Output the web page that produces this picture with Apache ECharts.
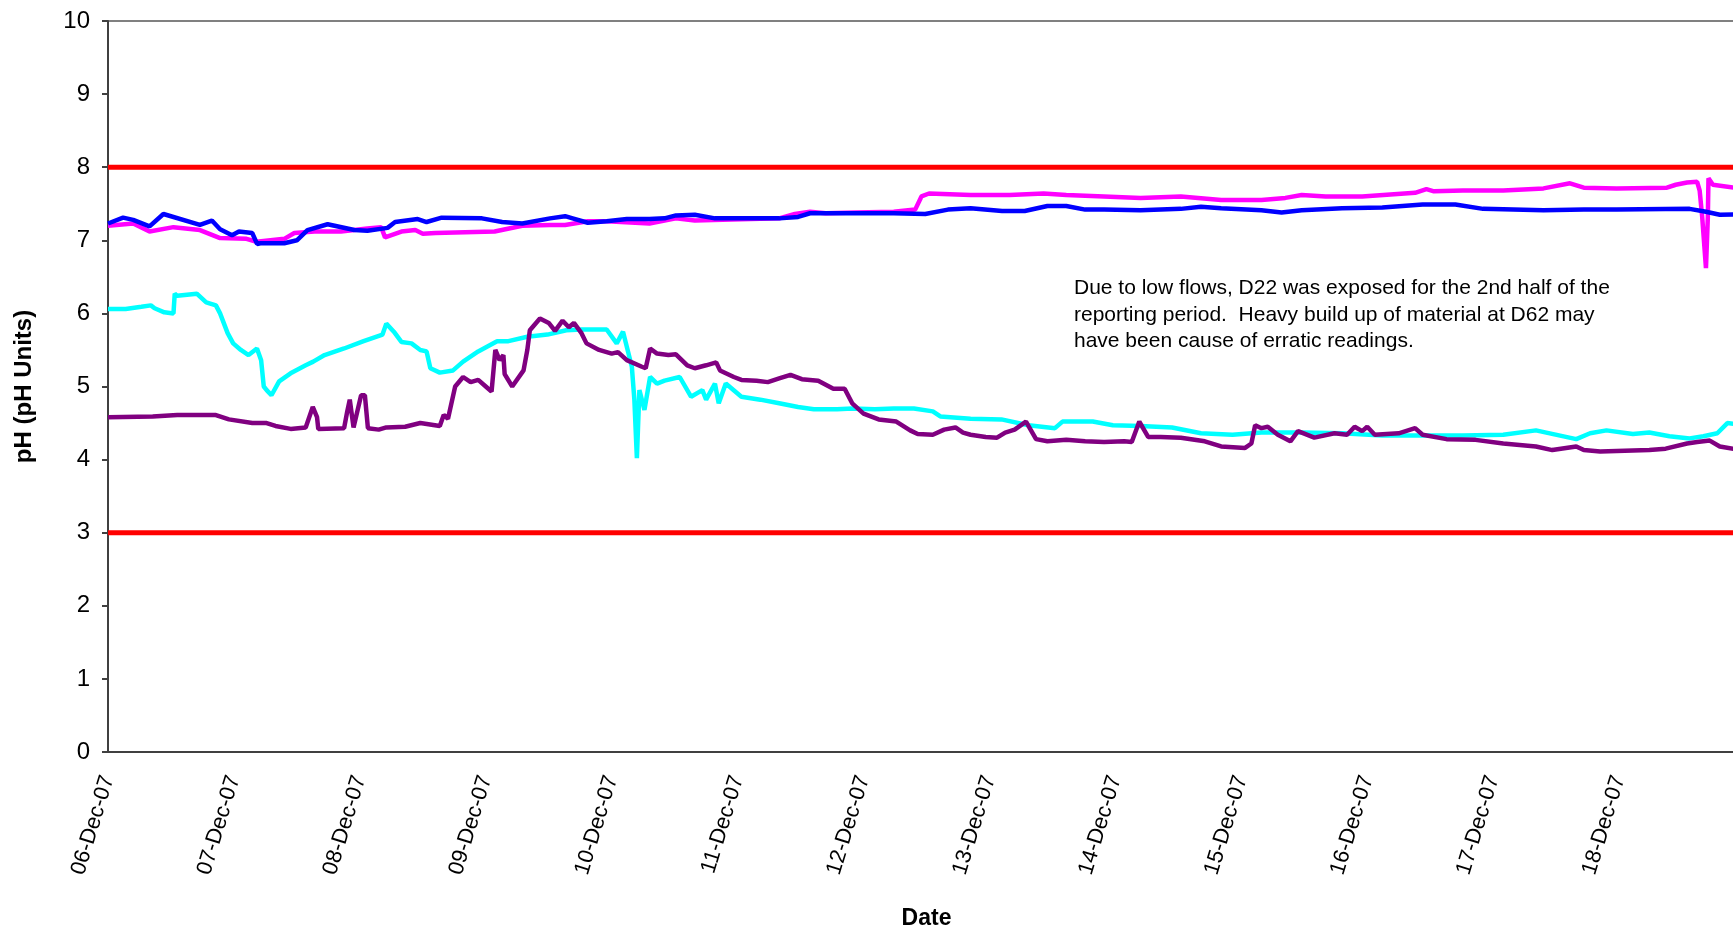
<!DOCTYPE html>
<html>
<head>
<meta charset="utf-8">
<title>pH chart</title>
<script src="https://cdn.jsdelivr.net/npm/echarts@6/dist/echarts.min.js"></script>
<style>
  html, body { margin: 0; padding: 0; background: #fff; overflow: hidden; }
  #chart { width: 1733px; height: 932px; }
</style>
</head>
<body>
<div id="chart"></div>
<script>
// x values are days since 06-Dec-07 00:00
const tickLabels = ["06-Dec-07", "07-Dec-07", "08-Dec-07", "09-Dec-07", "10-Dec-07", "11-Dec-07",
  "12-Dec-07", "13-Dec-07", "14-Dec-07", "15-Dec-07", "16-Dec-07", "17-Dec-07", "18-Dec-07"];

const upperLimit = 8;
const lowerLimit = 3;

const blueDays = [0, 0.12, 0.2, 0.33, 0.44, 0.73, 0.825, 0.89, 0.985, 1.04, 1.145, 1.184, 1.21, 1.4, 1.5, 1.584, 1.744, 1.956, 2.06, 2.22, 2.28, 2.46, 2.53, 2.65, 2.97, 3.13, 3.29, 3.51, 3.63, 3.69, 3.81, 3.96, 4.12, 4.3, 4.42, 4.51, 4.66, 4.82, 5.03, 5.33, 5.48, 5.575, 5.7, 5.94, 6.24, 6.49, 6.67, 6.85, 7.1, 7.28, 7.46, 7.61, 7.76, 7.91, 8.2, 8.52, 8.68, 8.84, 9.16, 9.32, 9.48, 9.8, 10.12, 10.44, 10.7, 10.92, 11.4, 11.72, 11.98, 12.56, 12.69, 12.8, 13.05];
const bluePh = [7.23, 7.31, 7.28, 7.19, 7.36, 7.21, 7.27, 7.15, 7.07, 7.12, 7.1, 6.95, 6.96, 6.96, 7.0, 7.14, 7.22, 7.14, 7.13, 7.17, 7.25, 7.29, 7.25, 7.31, 7.3, 7.25, 7.23, 7.3, 7.33, 7.3, 7.24, 7.26, 7.29, 7.29, 7.3, 7.34, 7.35, 7.3, 7.3, 7.3, 7.32, 7.37, 7.37, 7.37, 7.37, 7.36, 7.42, 7.44, 7.4, 7.4, 7.47, 7.47, 7.42, 7.42, 7.41, 7.43, 7.46, 7.44, 7.41, 7.38, 7.41, 7.44, 7.45, 7.49, 7.49, 7.43, 7.41, 7.42, 7.42, 7.43, 7.39, 7.35, 7.36];

const magentaDays = [0, 0.2, 0.33, 0.52, 0.73, 0.89, 1.1, 1.18, 1.4, 1.48, 1.64, 1.85, 2.06, 2.17, 2.2, 2.33, 2.44, 2.5, 2.6, 3.07, 3.29, 3.51, 3.63, 3.81, 3.96, 4.3, 4.51, 4.66, 4.88, 5.33, 5.455, 5.575, 5.7, 5.94, 6.24, 6.41, 6.46, 6.52, 6.85, 7.16, 7.43, 7.61, 7.91, 8.2, 8.52, 8.84, 9.16, 9.35, 9.48, 9.67, 9.96, 10.38, 10.47, 10.53, 10.76, 11.08, 11.4, 11.61, 11.72, 11.98, 12.38, 12.45, 12.54, 12.62, 12.64, 12.66, 12.69, 12.705, 12.71, 12.745, 12.96, 13.05];
const magentaPh = [7.2, 7.23, 7.12, 7.18, 7.14, 7.03, 7.02, 6.98, 7.02, 7.1, 7.12, 7.12, 7.16, 7.18, 7.04, 7.12, 7.14, 7.09, 7.1, 7.12, 7.2, 7.21, 7.21, 7.26, 7.26, 7.23, 7.3, 7.27, 7.28, 7.3, 7.36, 7.39, 7.37, 7.38, 7.39, 7.42, 7.6, 7.64, 7.62, 7.62, 7.64, 7.62, 7.6, 7.58, 7.6, 7.55, 7.55, 7.58, 7.62, 7.6, 7.6, 7.65, 7.7, 7.67, 7.68, 7.68, 7.71, 7.78, 7.72, 7.71, 7.72, 7.76, 7.79, 7.8, 7.68, 7.32, 6.62, 7.32, 7.85, 7.76, 7.71, 7.71];

const cyanDays = [0, 0.14, 0.265, 0.34, 0.37, 0.447, 0.52, 0.53, 0.55, 0.705, 0.78, 0.857, 0.89, 0.95, 0.994, 1.055, 1.116, 1.183, 1.216, 1.237, 1.26, 1.298, 1.359, 1.45, 1.57, 1.63, 1.72, 1.875, 2.03, 2.18, 2.21, 2.27, 2.33, 2.41, 2.48, 2.53, 2.56, 2.635, 2.74, 2.82, 2.94, 3.09, 3.18, 3.33, 3.49, 3.64, 3.76, 3.96, 4.04, 4.09, 4.16, 4.18, 4.2, 4.22, 4.26, 4.305, 4.36, 4.42, 4.54, 4.63, 4.72, 4.75, 4.82, 4.85, 4.906, 5.03, 5.18, 5.33, 5.48, 5.605, 5.79, 5.91, 6.09, 6.24, 6.4, 6.55, 6.61, 6.85, 7.095, 7.31, 7.52, 7.58, 7.82, 7.98, 8.2, 8.45, 8.68, 8.93, 9.16, 9.48, 9.8, 10.12, 10.44, 10.76, 11.08, 11.34, 11.66, 11.77, 11.9, 12.11, 12.24, 12.4, 12.56, 12.67, 12.78, 12.86, 12.96, 13.05];
const cyanPh = [6.06, 6.06, 6.09, 6.11, 6.07, 6.015, 6.0, 6.27, 6.24, 6.27, 6.15, 6.11, 6.0, 5.73, 5.59, 5.5, 5.43, 5.52, 5.36, 5.0, 4.95, 4.88, 5.07, 5.18, 5.29, 5.34, 5.43, 5.52, 5.62, 5.71, 5.86, 5.75, 5.61, 5.59, 5.5, 5.48, 5.25, 5.19, 5.22, 5.34, 5.48, 5.62, 5.62, 5.68, 5.71, 5.77, 5.78, 5.78, 5.59, 5.75, 5.27, 4.82, 4.02, 4.95, 4.68, 5.13, 5.04, 5.08, 5.13, 4.86, 4.95, 4.82, 5.04, 4.77, 5.04, 4.86, 4.82, 4.77, 4.72, 4.69, 4.69, 4.7, 4.69, 4.7, 4.7, 4.66, 4.59, 4.56, 4.55, 4.47, 4.43, 4.52, 4.52, 4.47, 4.46, 4.44, 4.36, 4.34, 4.37, 4.37, 4.36, 4.33, 4.33, 4.33, 4.34, 4.4, 4.28, 4.36, 4.4, 4.35, 4.37, 4.32, 4.29, 4.32, 4.36, 4.5, 4.48, 4.5];

const purpleDays = [0, 0.355, 0.55, 0.857, 0.96, 1.146, 1.26, 1.33, 1.45, 1.57, 1.626, 1.66, 1.67, 1.875, 1.9, 1.92, 1.95, 2.01, 2.04, 2.064, 2.15, 2.21, 2.36, 2.48, 2.635, 2.666, 2.7, 2.757, 2.82, 2.88, 2.94, 3.0, 3.046, 3.076, 3.11, 3.14, 3.15, 3.21, 3.3, 3.33, 3.35, 3.43, 3.5, 3.55, 3.61, 3.66, 3.7, 3.76, 3.8, 3.9, 4.0, 4.05, 4.12, 4.24, 4.27, 4.305, 4.36, 4.45, 4.51, 4.6, 4.66, 4.75, 4.83, 4.86, 4.97, 5.03, 5.15, 5.24, 5.33, 5.42, 5.51, 5.64, 5.76, 5.85, 5.91, 6.0, 6.12, 6.26, 6.37, 6.43, 6.55, 6.64, 6.73, 6.79, 6.85, 6.97, 7.06, 7.125, 7.2, 7.29, 7.37, 7.46, 7.61, 7.76, 7.91, 8.07, 8.13, 8.19, 8.26, 8.36, 8.52, 8.71, 8.84, 9.03, 9.08, 9.11, 9.16, 9.21, 9.29, 9.39, 9.45, 9.58, 9.74, 9.84, 9.9, 9.96, 10.0, 10.06, 10.25, 10.38, 10.44, 10.63, 10.86, 11.08, 11.34, 11.47, 11.66, 11.72, 11.85, 12.24, 12.37, 12.54, 12.62, 12.72, 12.8, 12.96, 13.05];
const purplePh = [4.58, 4.59, 4.61, 4.61, 4.55, 4.5, 4.5, 4.46, 4.42, 4.44, 4.72, 4.58, 4.42, 4.43, 4.66, 4.82, 4.44, 4.88, 4.88, 4.43, 4.41, 4.44, 4.45, 4.5, 4.46, 4.61, 4.56, 5.0, 5.13, 5.06, 5.09, 5.0, 4.93, 5.5, 5.36, 5.43, 5.17, 5.0, 5.22, 5.5, 5.77, 5.93, 5.87, 5.76, 5.9, 5.81, 5.87, 5.73, 5.59, 5.5, 5.45, 5.47, 5.36, 5.27, 5.25, 5.52, 5.45, 5.43, 5.44, 5.29, 5.25, 5.29, 5.33, 5.22, 5.13, 5.09, 5.08, 5.06, 5.11, 5.16, 5.1, 5.08, 4.97, 4.97, 4.77, 4.63, 4.55, 4.52, 4.4, 4.35, 4.34, 4.41, 4.44, 4.37, 4.34, 4.31, 4.3, 4.37, 4.41, 4.52, 4.28, 4.25, 4.27, 4.25, 4.24, 4.25, 4.24, 4.52, 4.31, 4.31, 4.3, 4.25, 4.18, 4.16, 4.22, 4.47, 4.43, 4.45, 4.34, 4.25, 4.39, 4.3, 4.36, 4.34, 4.45, 4.39, 4.45, 4.34, 4.36, 4.43, 4.34, 4.28, 4.27, 4.22, 4.18, 4.13, 4.18, 4.13, 4.11, 4.13, 4.15, 4.22, 4.24, 4.26, 4.18, 4.13, 4.12];

const noteLines = [
  "Due to low flows, D22 was exposed for the 2nd half of the",
  "reporting period.  Heavy build up of material at D62 may",
  "have been cause of erratic readings."
];

const FONT = '"Liberation Sans", Arial, sans-serif';

function zip(xs, ys) {
  return xs.map((x, i) => [x, ys[i]]);
}

function lineSeries(name, color, width, data) {
  return {
    name: name,
    type: "line",
    data: data,
    symbol: "none",
    lineStyle: { color: color, width: width },
    itemStyle: { color: color },
    clip: true,
  };
}

const myChart = echarts.init(document.getElementById("chart"), null, { renderer: "canvas" });

myChart.setOption({
  animation: false,
  backgroundColor: "#fff",
  // plot area runs a little past the right edge of the picture
  grid: {
    left: 108,
    top: 21,
    width: 1637,
    height: 731,
    outerBoundsMode: "none",
    containLabel: false,
    show: true,
    borderColor: "#808080",
    borderWidth: 2,
  },
  xAxis: {
    type: "value",
    min: 0,
    max: 13,
    interval: 1,
    name: "Date",
    nameLocation: "middle",
    nameGap: 155,
    nameTextStyle: { fontFamily: FONT, fontSize: 23, fontWeight: "bold", color: "#000" },
    axisLine: { lineStyle: { color: "#404040", width: 2 } },
    axisTick: { show: false },
    splitLine: { show: false },
    axisLabel: {
      rotate: 73,
      margin: 24,
      fontFamily: FONT,
      fontSize: 22,
      color: "#000",
      showMaxLabel: false,
      formatter: function (v) {
        return tickLabels[v] || "";
      },
    },
  },
  yAxis: {
    type: "value",
    min: 0,
    max: 10,
    interval: 1,
    name: "pH (pH Units)",
    nameLocation: "middle",
    nameGap: 72,
    nameTextStyle: { fontFamily: FONT, fontSize: 24, fontWeight: "bold", color: "#000" },
    axisLine: { show: true, lineStyle: { color: "#404040", width: 2 } },
    axisTick: { show: true, length: 6, lineStyle: { color: "#404040", width: 2 } },
    splitLine: { show: false },
    axisLabel: { margin: 18, fontFamily: FONT, fontSize: 24, color: "#000" },
  },
  graphic: [
    {
      type: "text",
      left: 1074,
      top: 275,
      style: {
        text: noteLines.join("\n"),
        fontFamily: FONT,
        fontSize: 21,
        lineHeight: 26.5,
        fill: "#000",
      },
    },
  ],
  series: [
    lineSeries("Upper limit", "#FF0000", 5, [[0, upperLimit], [13, upperLimit]]),
    lineSeries("Lower limit", "#FF0000", 5, [[0, lowerLimit], [13, lowerLimit]]),
    lineSeries("Cyan", "#00FFFF", 4.5, zip(cyanDays, cyanPh)),
    lineSeries("Magenta", "#FF00FF", 4.5, zip(magentaDays, magentaPh)),
    lineSeries("Purple", "#800080", 4.5, zip(purpleDays, purplePh)),
    lineSeries("Blue", "#0000FF", 4.5, zip(blueDays, bluePh)),
  ],
});
</script>
</body>
</html>
